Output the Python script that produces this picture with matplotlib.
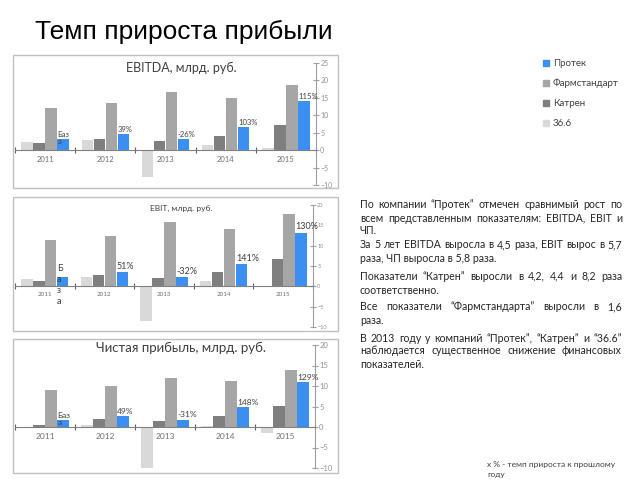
import numpy as np
import matplotlib
matplotlib.use('Agg')
import matplotlib.pyplot as plt
from matplotlib.patches import Rectangle

# ------------------------------------------------------------------ data
years = ['2011', '2012', '2013', '2014', '2015']
series = ['36.6', 'Катрен', 'Фармстандарт', 'Протек']
colors = ['#d9d9d9', '#7f7f7f', '#a6a6a6', '#3a8ff0']

ebitda_366 = [2.4, 2.9, -7.7, 1.5, 0.65]
ebitda_katren = [2.0, 3.3, 2.6, 4.2, 7.3]
ebitda_pharm = [12.0, 13.4, 16.6, 15.1, 18.7]
ebitda_protek = [3.2, 4.5, 3.2, 6.6, 14.0]
ebitda_growth = ['Баз\nа', '39%', '-26%', '103%', '115%']

ebit_366 = [1.7, 2.2, -8.5, 1.2, 0.15]
ebit_katren = [1.4, 2.9, 2.0, 3.5, 6.8]
ebit_pharm = [11.3, 12.4, 15.9, 14.2, 17.9]
ebit_protek = [2.4, 3.5, 2.3, 5.5, 13.2]
ebit_growth = ['Б\nа\nз\nа', '51%', '-32%', '141%', '130%']

np_366 = [0.1, 0.6, -10.0, 0.25, -1.4]
np_katren = [0.5, 1.9, 1.5, 2.8, 5.1]
np_pharm = [9.0, 10.0, 12.0, 11.2, 14.0]
np_protek = [1.6, 2.6, 1.8, 4.9, 11.0]
np_growth = ['Баз\nа', '49%', '-31%', '148%', '129%']

text_lines = [
    ('По компании “Протек” отмечен сравнимый рост по', True),
    ('всем представленным показателям: EBITDA, EBIT и', True),
    ('ЧП.', False),
    ('За 5 лет EBITDA выросла в 4,5 раза, EBIT вырос в 5,7', True),
    ('раза, ЧП выросла в 5,8 раза.', False),
    ('Показатели “Катрен” выросли в 4,2, 4,4 и 8,2 раза', True),
    ('соответственно.', False),
    ('Все показатели “Фармстандарта” выросли в 1,6', True),
    ('раза.', False),
    ('В 2013 году у компаний “Протек”, “Катрен” и “36.6”', True),
    ('наблюдается существенное снижение финансовых', True),
    ('показателей.', False),
]
text_y = [205, 218, 231, 245, 259, 276, 290, 307, 321, 338, 351, 364]

W, H = 640, 480
FONT = ['Lato', 'DejaVu Sans']


def fx(x):
    return x / W


def fy(y):
    return 1 - y / H


# ------------------------------------------------------------------
def draw_panel(fig, box, area, values, growth, title, tsize, ty,
               ylim, yticks, lab_size, tick_size):
    """ one bar chart in its grey frame, area = (x0, ytop, x1, ybottom) px
    """
    x0, y0, x1, y1 = box
    fig.patches.append(Rectangle((fx(x0), fy(y1)), fx(x1 - x0), (y1 - y0) / H,
                                 transform=fig.transFigure, fill=False,
                                 edgecolor='#c0c0c0', linewidth=1.0))
    ax = fig.add_axes([fx(area[0]), fy(area[3]), fx(area[2] - area[0]),
                       (area[3] - area[1]) / H])
    ax.patch.set_alpha(0)
    x = np.arange(len(years))
    for i, (vals, col) in enumerate(zip(values, colors)):
        ax.bar(x + (i - 1.5) * 0.2, vals, width=0.19, color=col, zorder=2)
    prot = values[3]
    for xi, v, g in zip(x, prot, growth):
        nl = g.count('\n')
        if nl == 0:
            kw = dict(xytext=(0, 1), va='bottom', linespacing=1.0)
        elif nl == 1:
            kw = dict(xytext=(0, 1), va='center', linespacing=1.0)
        else:
            kw = dict(xytext=(0, 9), va='top', linespacing=1.3)
        ax.annotate(g, (xi + 0.3 - 0.095, v), textcoords='offset points',
                    ha='left', fontsize=lab_size, color='#404040',
                    family=FONT, zorder=3, **kw)
    ax.set_xlim(-0.5, 4.5)
    ax.set_ylim(*ylim)
    for s in ['left', 'top']:
        ax.spines[s].set_visible(False)
    ax.spines['bottom'].set_position(('data', 0))
    ax.spines['bottom'].set_color('#808080')
    ax.spines['right'].set_color('#a0a0a0')
    ax.yaxis.tick_right()
    ax.set_yticks(yticks)
    ax.tick_params(axis='y', direction='inout', length=4, width=0.8,
                   colors='#a0a0a0', labelsize=tick_size, pad=1,
                   labelcolor='#909090')
    ax.set_xticks(np.arange(-0.5, 5, 1.0))
    ax.set_xticklabels([])
    ax.set_xticks(x, minor=True)
    ax.set_xticklabels(years, minor=True)
    ax.tick_params(axis='x', which='major', direction='inout', length=4,
                   color='#606060')
    ax.tick_params(axis='x', which='minor', length=0, labelsize=tick_size + 0.5,
                   labelcolor='#707070', pad=4)
    for lbl in ax.get_xticklabels(minor=True) + ax.get_yticklabels():
        lbl.set_family(FONT)
    fig.text(fx(181), fy(ty), title, ha='center', va='center',
             fontsize=tsize, color='#404040', family=FONT)
    return ax


def justified(fig, lines, ys, left, right, size):
    """ justified paragraph text, word by word
    """
    r = fig.canvas.get_renderer()
    for (line, just), y in zip(lines, ys):
        if not just:
            fig.text(fx(left), fy(y), line, fontsize=size, va='center',
                     color='#262626', family=FONT)
            continue
        words = line.split(' ')
        items = [fig.text(0, fy(y), w, fontsize=size, va='center',
                          color='#262626', family=FONT) for w in words]
        widths = [t.get_window_extent(r).width for t in items]
        gap = (right - left - sum(widths)) / (len(words) - 1)
        pos = left
        for t, w in zip(items, widths):
            t.set_x(fx(pos))
            pos += w + gap


fig = plt.figure(figsize=(6.4, 4.8), dpi=100)

fig.text(fx(35), fy(32), 'Темп прироста прибыли', fontsize=19,
         va='center', ha='left', family=['Liberation Sans', 'DejaVu Sans'])

draw_panel(fig, (13, 55, 338, 188), (15, 63, 316, 185),
           [ebitda_366, ebitda_katren, ebitda_pharm, ebitda_protek],
           ebitda_growth, 'EBITDA, млрд. руб.', 9, 68,
           (-10, 25), range(-10, 26, 5), 5.5, 5)
draw_panel(fig, (13, 197, 338, 331), (15, 205, 313, 327),
           [ebit_366, ebit_katren, ebit_pharm, ebit_protek],
           ebit_growth, 'EBIT, млрд. руб.', 6, 208,
           (-10, 20), range(-10, 21, 5), 6.5, 4)
draw_panel(fig, (13, 339, 338, 473), (15, 345, 315, 468),
           [np_366, np_katren, np_pharm, np_protek],
           np_growth, 'Чистая прибыль, млрд. руб.', 9.5, 348,
           (-10, 20), range(-10, 21, 5), 6, 5.5)

# legend
leg_y = [63, 83, 103, 123]
for name, y in zip(series[::-1], leg_y):
    col = colors[series.index(name)]
    fig.patches.append(Rectangle((fx(543), fy(y + 3)), fx(6), 6 / H,
                                 transform=fig.transFigure, color=col))
    fig.text(fx(553), fy(y), name, fontsize=7, va='center',
             color='#404040', family=FONT)

justified(fig, text_lines, text_y, 360, 622, 7.6)

fig.text(fx(487), fy(465), 'х % - темп прироста к прошлому', fontsize=6,
         va='center', color='#404040', family=FONT)
fig.text(fx(487), fy(475), 'году', fontsize=6, va='center',
         color='#404040', family=FONT)

fig.savefig('out.png', dpi=100)
